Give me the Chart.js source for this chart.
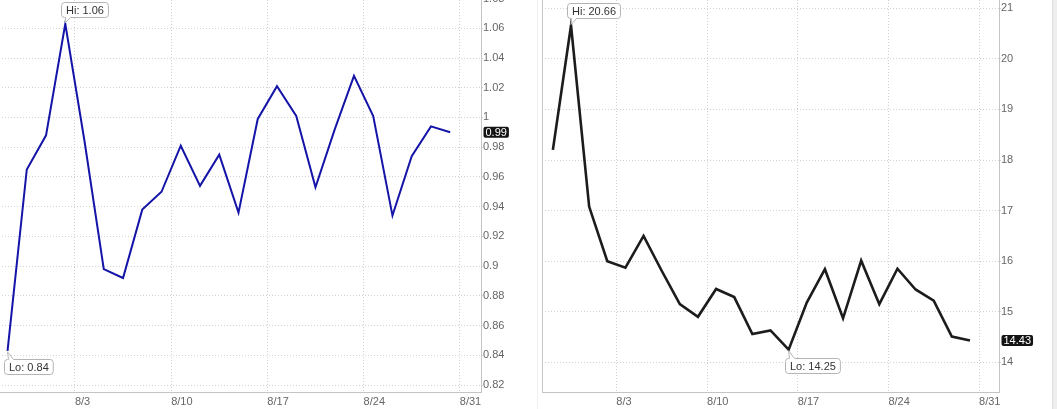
<!DOCTYPE html>
<html lang="en">
<head>
    <meta charset="UTF-8">
    <title>Two line charts</title>
    <script src="https://cdn.jsdelivr.net/npm/chart.js"></script>
    <style>
        body {
            margin: 0;
            background: #fff;
            width: 1057px;
            height: 409px;
            overflow: hidden;
            position: relative;
        }
        .box { position: absolute; }
        #leftBox { left: -4px; top: -12px; width: 536px; height: 424px; }
        #rightBox { left: 542px; top: -12px; width: 508px; height: 424px; }
        .divider { position: absolute; top: 0; left: 537px; width: 1px; height: 409px; background: #f0f0f0; }
        .edge { position: absolute; top: 0; left: 1052px; width: 5px; height: 409px; background: #eeeeee; border-left: 1px solid #e0e0e0; }
    </style>
</head>
<body>
    <div class="divider"></div>
    <div class="box" id="leftBox"><canvas id="leftChart"></canvas></div>
    <div class="box" id="rightBox"><canvas id="rightChart"></canvas></div>
    <div class="edge"></div>

    <script>
        // trading days shown on both charts
        const dates = ['7/28', '7/29', '7/30', '7/31',
            '8/3', '8/4', '8/5', '8/6', '8/7',
            '8/10', '8/11', '8/12', '8/13', '8/14',
            '8/17', '8/18', '8/19', '8/20', '8/21',
            '8/24', '8/25', '8/26', '8/27', '8/28'];
        const xTickLabels = ['8/3', '8/10', '8/17', '8/24', '8/31'];

        const leftValues = [0.843, 0.965, 0.988, 1.063, 0.984, 0.898, 0.892, 0.938, 0.950, 0.981,
            0.954, 0.975, 0.936, 0.999, 1.021, 1.001, 0.953, 0.992, 1.028, 1.001,
            0.934, 0.974, 0.994, 0.990];
        const rightValues = [18.20, 20.66, 17.08, 16.00, 15.87, 16.50, 15.81, 15.15, 14.90, 15.45,
            15.29, 14.56, 14.63, 14.25, 15.18, 15.84, 14.87, 16.01, 15.15, 15.85,
            15.44, 15.22, 14.51, 14.43];

        const leftYTicks = [0.82, 0.84, 0.86, 0.88, 0.9, 0.92, 0.94, 0.96, 0.98, 1, 1.02, 1.04, 1.06, 1.08];
        const rightYTicks = [14, 15, 16, 17, 18, 19, 20, 21];

        const FONT = '"Liberation Sans", Arial, sans-serif';
        Chart.defaults.font.family = FONT;
        Chart.defaults.font.size = 11;

        // week lines sit between Friday and Monday points
        function tickPositions() {
            return xTickLabels.map(function (lab) {
                const i = dates.indexOf(lab);
                return (i < 0 ? dates.length : i) - 0.5;
            });
        }

        function fmt(v) {
            return String(Number(v.toFixed(2)));
        }

        function roundBox(ctx, x, y, w, h, r) {
            ctx.beginPath();
            ctx.moveTo(x + r, y);
            ctx.arcTo(x + w, y, x + w, y + h, r);
            ctx.arcTo(x + w, y + h, x, y + h, r);
            ctx.arcTo(x, y + h, x, y, r);
            ctx.arcTo(x, y, x + w, y, r);
            ctx.closePath();
        }

        function drawTag(ctx, text, px, py, above) {
            ctx.save();
            ctx.font = '11px ' + FONT;
            const w = ctx.measureText(text).width + 9;
            const h = 15, r = 3;
            const x = Math.round(px - 4) + 0.5;
            const y = Math.round(above ? py - 7 - h : py + 8) + 0.5;
            ctx.beginPath();
            ctx.moveTo(x + r, y);
            if (!above) {
                ctx.lineTo(x + 4, y);
                ctx.lineTo(px, py + 1);
                ctx.lineTo(x + 9, y);
            }
            ctx.arcTo(x + w, y, x + w, y + h, r);
            ctx.arcTo(x + w, y + h, x, y + h, r);
            if (above) {
                ctx.lineTo(x + 9, y + h);
                ctx.lineTo(px, py - 1);
                ctx.lineTo(x + 4, y + h);
            }
            ctx.arcTo(x, y + h, x, y, r);
            ctx.arcTo(x, y, x + w, y, r);
            ctx.closePath();
            ctx.fillStyle = '#fff';
            ctx.fill();
            ctx.strokeStyle = '#b4b4b4';
            ctx.lineWidth = 1;
            ctx.stroke();
            ctx.fillStyle = '#333';
            ctx.textBaseline = 'middle';
            ctx.fillText(text, x + 4.5, y + h / 2 + 0.5);
            ctx.restore();
        }

        function yValues(chart) {
            return chart.data.datasets[0].data.map(function (p) { return p.y; });
        }

        const markers = {
            id: 'markers',
            afterDatasetsDraw(chart, args, opts) {
                const ctx = chart.ctx;
                const data = yValues(chart);
                const xs = chart.scales.x, ys = chart.scales.y;
                const area = chart.chartArea;
                if (opts.leftBorder) {
                    ctx.save();
                    ctx.strokeStyle = '#c4c4c4';
                    ctx.lineWidth = 1;
                    ctx.beginPath();
                    ctx.moveTo(Math.round(area.left) + 0.5, area.top);
                    ctx.lineTo(Math.round(area.left) + 0.5, area.bottom);
                    ctx.stroke();
                    ctx.restore();
                }
                const hi = data.indexOf(Math.max.apply(null, data));
                const lo = data.indexOf(Math.min.apply(null, data));
                drawTag(ctx, 'Hi: ' + data[hi].toFixed(2), xs.getPixelForValue(hi), ys.getPixelForValue(data[hi]), true);
                drawTag(ctx, 'Lo: ' + data[lo].toFixed(2), xs.getPixelForValue(lo), ys.getPixelForValue(data[lo]), false);
            },
            afterDraw(chart) {
                const ctx = chart.ctx;
                const data = yValues(chart);
                const last = data[data.length - 1];
                const by = chart.scales.y.getPixelForValue(last);
                const text = last.toFixed(2);
                ctx.save();
                ctx.font = '11px ' + FONT;
                const w = ctx.measureText(text).width + 4;
                const h = 11;
                const bx = chart.chartArea.right + 2.5;
                roundBox(ctx, bx, by - h / 2, w, h, 2);
                ctx.fillStyle = '#141414';
                ctx.fill();
                ctx.fillStyle = '#fff';
                ctx.textBaseline = 'middle';
                ctx.fillText(text, bx + 2, by + 0.5);
                ctx.restore();
            }
        };

        function makeChart(id, values, color, lineWidth, yMin, yMax, yTicks, leftBorder) {
            const xt = tickPositions();
            return new Chart(document.getElementById(id), {
                type: 'line',
                data: {
                    datasets: [{
                        data: values.map(function (v, i) { return { x: i, y: v }; }),
                        borderColor: color,
                        borderWidth: lineWidth,
                        pointRadius: 0,
                        tension: 0,
                        fill: false
                    }]
                },
                options: {
                    responsive: true,
                    maintainAspectRatio: false,
                    animation: false,
                    layout: { padding: 0 },
                    plugins: {
                        legend: { display: false },
                        tooltip: { enabled: false },
                        markers: { leftBorder: leftBorder }
                    },
                    scales: {
                        x: {
                            type: 'linear',
                            min: -0.6,
                            max: 24.6,
                            afterBuildTicks: function (s) { s.ticks = xt.map(function (v) { return { value: v }; }); },
                            afterFit: function (s) { s.height = 20; s.paddingLeft = 0; s.paddingRight = 0; },
                            ticks: {
                                align: 'start',
                                color: '#666',
                                padding: 3,
                                maxRotation: 0,
                                autoSkip: false,
                                callback: function (v) { return xTickLabels[xt.indexOf(v)]; }
                            },
                            grid: { color: '#d2d2d2', drawTicks: false },
                            border: { color: '#c4c4c4', dash: [1, 2] }
                        },
                        y: {
                            position: 'right',
                            min: yMin,
                            max: yMax,
                            afterBuildTicks: function (s) { s.ticks = yTicks.map(function (v) { return { value: v }; }); },
                            afterFit: function (s) { s.width = 51; s.paddingTop = 0; s.paddingBottom = 0; },
                            ticks: {
                                color: '#666',
                                padding: 0,
                                autoSkip: false,
                                callback: function (v) { return fmt(v); }
                            },
                            grid: { color: '#d2d2d2', tickLength: 2, tickBorderDash: [1, 2] },
                            border: { color: '#c4c4c4', dash: [1, 2] }
                        }
                    }
                },
                plugins: [markers]
            });
        }

        makeChart('leftChart', leftValues, '#1414a8', 2, 0.8153, 1.0871, leftYTicks, false);
        makeChart('rightChart', rightValues, '#1c1c1c', 2.6, 13.413, 21.401, rightYTicks, true);
    </script>
</body>
</html>
